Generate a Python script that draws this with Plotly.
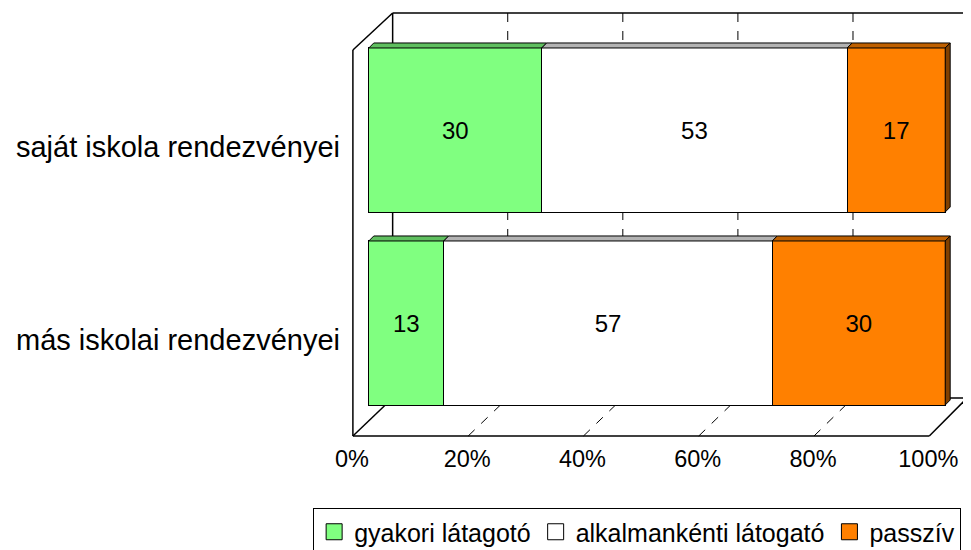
import plotly.graph_objects as go

# adatok (százalék)
kategoriak = ["saját iskola rendezvényei", "más iskolai rendezvényei"]
sorozatok = ["gyakori látagotó", "alkalmankénti látogató", "passzív"]
gyakori = [30, 13]
alkalmi = [53, 57]
passziv = [17, 30]
tick_ertekek = [0, 20, 40, 60, 80, 100]
tick_cimkek = ["0%", "20%", "40%", "60%", "80%", "100%"]

szinek = ["#80FF80", "#FFFFFF", "#FF8000"]
teto_szinek = ["#5FBF5F", "#B3B3B3", "#BF6000"]
oldal_szin = "#804000"
betu = "Liberation Sans, Arial, sans-serif"

W, H = 971, 570
OFFX, OFFY = 11, 8   # eltolás a képernyőhöz képest
MB = 120             # alsó margó (jelmagyarázatnak)
HP = H - MB

# képernyő pixel -> adat átváltás (oszlop 0% = 368px, 100% = 948px)
X0, XS = 368, 5.8
Y1, YS = 130, 193


def px_x(p):
    return (p - X0) / XS


def px_y(p):
    return 1 - (p - Y1) / YS


poziciok = list(range(len(kategoriak)))[::-1]
ertekek = [gyakori, alkalmi, passziv]

fig = go.Figure()

for nev, vals, szin in zip(sorozatok, ertekek, szinek):
    fig.add_trace(go.Bar(
        y=poziciok,
        x=vals,
        name=nev,
        orientation="h",
        marker=dict(color=szin, line=dict(color="black", width=1)),
        text=[str(v) for v in vals],
        textposition="inside",
        insidetextanchor="middle",
        textfont=dict(color="black", size=24, family=betu),
        hoverinfo="skip",
        showlegend=False,
    ))

# jelmagyarázat nagyobb négyzetekkel
for nev, szin in zip(sorozatok, szinek):
    fig.add_trace(go.Scatter(
        x=[None], y=[None], mode="markers", name=nev,
        marker=dict(symbol="square", size=20, color=szin,
                    line=dict(color="black", width=1)),
    ))

# láthatatlan pont a tengelyfeliratokhoz
fig.add_trace(go.Scatter(
    x=[0], y=[0], xaxis="x2", yaxis="y2", mode="markers",
    marker=dict(opacity=0), showlegend=False, hoverinfo="skip",
))

shapes = []


def vonal(p0, p1, dash="solid", layer="below"):
    shapes.append(dict(
        type="line", xref="x", yref="y",
        x0=px_x(p0[0]), y0=px_y(p0[1]), x1=px_x(p1[0]), y1=px_y(p1[1]),
        line=dict(color="black", width=1.5 if dash == "solid" else 1, dash=dash),
        layer=layer,
    ))


# 3D keret
vonal((392, 13), (971, 13))
vonal((392, 13), (392, 398))
vonal((969, 13), (969, 398))
vonal((352, 50), (392, 13))
vonal((352, 50), (352, 436))
vonal((352, 436), (932, 436))
vonal((932, 436), (970, 398))
vonal((352, 436), (392, 398))
vonal((392, 398), (970, 398))

# rácsvonalak (hátsó fal + padló)
for t in tick_ertekek[1:-1]:
    hx = 392 + t * 5.79
    ex = 352 + t * 5.8
    vonal((hx, 13), (hx, 398), dash="dash")
    vonal((ex, 436), (hx, 398), dash="dash")

# oszlopok teteje és oldala
dx, dy = 5 / XS, 5 / YS
fel = (1 - 0.15) / 2
for i, pos in enumerate(poziciok):
    kezd = 0
    for s, vals in enumerate(ertekek):
        veg = kezd + vals[i]
        yt = pos + fel
        shapes.append(dict(
            type="path", xref="x", yref="y", layer="above",
            path=f"M {kezd},{yt} L {veg},{yt} L {veg + dx},{yt + dy} L {kezd + dx},{yt + dy} Z",
            fillcolor=teto_szinek[s], line=dict(color="black", width=1),
        ))
        kezd = veg
    yb = pos - fel
    yt = pos + fel
    shapes.append(dict(
        type="path", xref="x", yref="y", layer="above",
        path=f"M {kezd},{yb} L {kezd},{yt} L {kezd + dx},{yt + dy} L {kezd + dx},{yb + dy} Z",
        fillcolor=oldal_szin, line=dict(color="black", width=1),
    ))

ALSO = 437  # a rajzterület alja (képernyő px)

fig.update_layout(
    width=W, height=H,
    margin=dict(l=0, r=0, t=0, b=MB),
    barmode="stack",
    bargap=0.15,
    paper_bgcolor="white",
    plot_bgcolor="rgba(0,0,0,0)",
    font=dict(family=betu, color="black"),
    shapes=shapes,
    xaxis=dict(
        domain=[(340 - OFFX) / W, (971 - OFFX) / W], range=[px_x(340), px_x(971)],
        showticklabels=False, showgrid=False, zeroline=False, showline=False,
    ),
    yaxis=dict(
        domain=[1 - (ALSO - OFFY) / HP, 1], range=[px_y(ALSO), px_y(OFFY)],
        showticklabels=False, showgrid=False, zeroline=False, showline=False,
    ),
    xaxis2=dict(
        overlaying="x", side="bottom", anchor="y",
        range=[(340 - 351) / XS, (971 - 351) / XS],
        tickvals=tick_ertekek, ticktext=tick_cimkek,
        tickfont=dict(size=23.5, family=betu),
        showgrid=False, zeroline=False, showline=False, ticks="",
        ticklabelstandoff=5,
    ),
    yaxis2=dict(
        overlaying="y", side="left", anchor="x",
        range=[1 - (ALSO - 147) / YS, 1 - (OFFY - 147) / YS],
        tickvals=poziciok, ticktext=kategoriak,
        tickfont=dict(size=29, family=betu),
        showgrid=False, zeroline=False, showline=False, ticks="",
    ),
    legend=dict(
        orientation="h", x=(312 - OFFX) / W, y=1 - (508 - OFFY) / HP,
        xanchor="left", yanchor="top", traceorder="normal",
        bordercolor="black", borderwidth=1,
        font=dict(size=25, family=betu),
        itemwidth=30, tracegroupgap=0,
    ),
)

fig.write_html("out.html")
